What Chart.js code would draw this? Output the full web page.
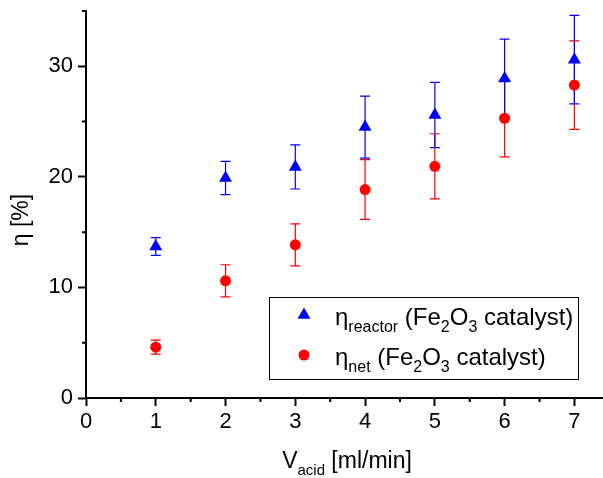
<!DOCTYPE html>
<html lang="en">
<head>
<meta charset="UTF-8">
<title>η vs V acid</title>
<script src="https://cdn.jsdelivr.net/npm/chart.js"></script>
<style>
  html, body { margin: 0; padding: 0; background: #fff; }
</style>
</head>
<body>
<canvas id="grafico" width="603" height="478"></canvas>

<script>
// caudal de ácido (ml/min)
const flujo = [1, 2, 3, 4, 5, 6, 7];
// eficiencia del reactor y neta, con su error
const etaReactor = [13.7, 19.9, 20.9, 24.5, 25.6, 28.9, 30.6];
const errReactor = [0.8, 1.5, 2.0, 2.8, 2.95, 3.55, 4.0];
const etaNet = [4.6, 10.6, 13.85, 18.85, 20.95, 25.3, 28.3];
const errNet = [0.63, 1.45, 1.9, 2.7, 2.95, 3.5, 4.0];

const FUENTE = '"Liberation Sans", Arial, sans-serif';
const AZUL = '#0000ff';
const ROJO = '#ff0000';

const puntos = (ys) => flujo.map((x, i) => ({ x: x, y: ys[i] }));

// texto con subíndices: [texto, esSub]
function textoRico(ctx, partes, x, y, tam, medir) {
  let x0 = x;
  const sub = Math.round(tam * 0.67);
  for (const [t, esSub] of partes) {
    ctx.font = (esSub ? sub : tam) + 'px ' + FUENTE;
    if (!medir) ctx.fillText(t, x0, esSub ? y + 7 : y);
    x0 += ctx.measureText(t).width;
  }
  return x0 - x;
}

const barrasError = {
  id: 'barrasError',
  beforeDatasetsDraw(chart) {
    const { ctx, scales: { x, y } } = chart;
    ctx.save();
    ctx.lineWidth = 1.2;
    // primero las netas, encima las del reactor
    [1, 0].forEach(d => {
      const ds = chart.data.datasets[d];
      ctx.strokeStyle = ds.backgroundColor;
      ds.data.forEach((p, i) => {
        const px = x.getPixelForValue(p.x);
        const top = y.getPixelForValue(p.y + ds.errores[i]);
        const bot = y.getPixelForValue(p.y - ds.errores[i]);
        ctx.beginPath();
        ctx.moveTo(px, top); ctx.lineTo(px, bot);
        ctx.moveTo(px - 5, top); ctx.lineTo(px + 5, top);
        ctx.moveTo(px - 5, bot); ctx.lineTo(px + 5, bot);
        ctx.stroke();
      });
    });
    ctx.restore();
  }
};

const decoracion = {
  id: 'decoracion',
  afterDraw(chart) {
    const { ctx, scales: { x, y } } = chart;
    ctx.save();
    ctx.fillStyle = '#000';
    ctx.strokeStyle = '#000';

    // ticks menores
    ctx.lineWidth = 2;
    ctx.beginPath();
    x.ticks.forEach(t => {
      if (Number.isInteger(t.value)) return;
      const px = x.getPixelForValue(t.value);
      ctx.moveTo(px, y.bottom); ctx.lineTo(px, y.bottom + 4);
    });
    y.ticks.forEach(t => {
      if (t.value % 10 === 0) return;
      const py = y.getPixelForValue(t.value);
      ctx.moveTo(x.left, py); ctx.lineTo(x.left - 4, py);
    });
    ctx.stroke();

    // títulos de los ejes
    ctx.textBaseline = 'alphabetic';
    const tituloX = [['V', false], ['acid', true], [' [ml/min]', false]];
    const w = textoRico(ctx, tituloX, 0, 0, 23, true);
    textoRico(ctx, tituloX, 347 - w / 2, 468, 23);

    ctx.save();
    ctx.translate(22, 220);
    ctx.rotate(-Math.PI / 2);
    ctx.textAlign = 'center';
    ctx.textBaseline = 'middle';
    ctx.font = '23px ' + FUENTE;
    ctx.fillText('η [%]', 0, 0);
    ctx.restore();

    // leyenda
    ctx.fillStyle = '#fff';
    ctx.fillRect(269, 297, 309, 82);
    ctx.lineWidth = 1;
    ctx.strokeRect(269.5, 297.5, 309, 82);

    const filas = [
      { ds: chart.data.datasets[0], y: 315, partes: [['η', false], ['reactor', true], [' (Fe', false], ['2', true], ['O', false], ['3', true], [' catalyst)', false]] },
      { ds: chart.data.datasets[1], y: 355, partes: [['η', false], ['net', true], [' (Fe', false], ['2', true], ['O', false], ['3', true], [' catalyst)', false]] }
    ];
    filas.forEach(f => {
      ctx.fillStyle = f.ds.backgroundColor;
      Chart.helpers.drawPoint(ctx, { pointStyle: f.ds.pointStyle, radius: f.ds.pointRadius, rotation: 0, borderWidth: 0 }, 304, f.y);
      ctx.fillStyle = '#000';
      textoRico(ctx, f.partes, 335, f.y + 10, 24);
    });
    ctx.restore();
  }
};

const ctx = document.getElementById('grafico').getContext('2d');
new Chart(ctx, {
  type: 'scatter',
  data: {
    datasets: [{
      label: 'η reactor (Fe2O3 catalyst)',
      data: puntos(etaReactor),
      errores: errReactor,
      pointStyle: 'triangle',
      pointRadius: 7.5,
      pointBorderWidth: 0,
      backgroundColor: AZUL,
      borderColor: AZUL,
      order: 1
    }, {
      label: 'η net (Fe2O3 catalyst)',
      data: puntos(etaNet),
      errores: errNet,
      pointStyle: 'circle',
      pointRadius: 5.5,
      pointBorderWidth: 0,
      backgroundColor: ROJO,
      borderColor: ROJO,
      order: 0
    }]
  },
  options: {
    responsive: false,
    animation: false,
    // el eje x continúa hasta el borde derecho
    layout: { autoPadding: false, padding: { top: 11, right: 0, left: 0, bottom: 0 } },
    plugins: { legend: { display: false }, tooltip: { enabled: false } },
    scales: {
      x: {
        min: 0,
        max: 7.41,
        bounds: 'data',
        afterFit: s => { s.height = 80; s.paddingLeft = 0; s.paddingRight = 0; },
        border: { color: '#000', width: 2 },
        grid: {
          drawOnChartArea: false,
          tickLength: 8,
          tickWidth: 2,
          tickColor: c => (c.tick && Number.isInteger(c.tick.value)) ? '#000' : 'rgba(0,0,0,0)'
        },
        ticks: {
          stepSize: 0.5,
          includeBounds: false,
          autoSkip: false,
          maxRotation: 0,
          padding: 3,
          color: '#000',
          font: { family: FUENTE, size: 22 },
          callback: v => Number.isInteger(v) ? String(v) : ''
        }
      },
      y: {
        min: 0,
        max: 35,
        afterFit: s => { s.width = 86; s.paddingTop = 0; s.paddingBottom = 0; },
        border: { color: '#000', width: 2 },
        grid: {
          drawOnChartArea: false,
          tickLength: 8,
          tickWidth: 2,
          tickColor: c => (c.tick && c.tick.value % 10 === 0) ? '#000' : 'rgba(0,0,0,0)'
        },
        ticks: {
          stepSize: 5,
          includeBounds: false,
          padding: 5,
          color: '#000',
          font: { family: FUENTE, size: 22 },
          callback: v => v % 10 === 0 ? String(v) : ''
        }
      }
    }
  },
  plugins: [barrasError, decoracion]
});
</script>
</body>
</html>
